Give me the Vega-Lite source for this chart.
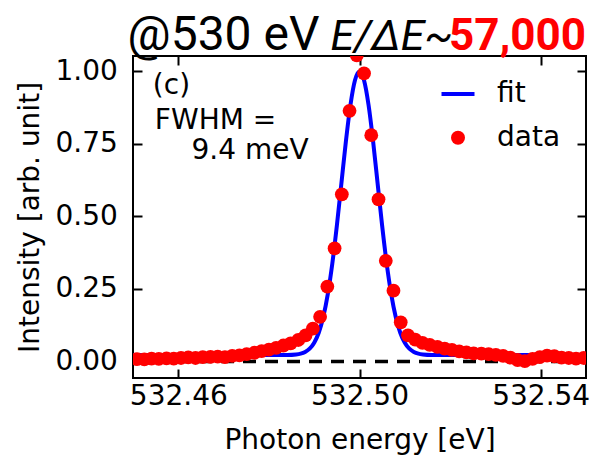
{
  "$schema": "https://vega.github.io/schema/vega-lite/v6.json",
  "width": 453,
  "height": 322,
  "autosize": {"type": "none"},
  "padding": {"left": 133, "top": 56, "right": 8, "bottom": 78},
  "background": "white",
  "config": {
    "view": {"stroke": "#000000", "strokeWidth": 2},
    "axis": {
      "domain": false, "grid": false, "tickColor": "#000000", "tickWidth": 2, "tickSize": -9,
      "labelFont": "DejaVu Sans", "labelFontSize": 28, "labelColor": "#000000",
      "titleFont": "DejaVu Sans", "titleFontSize": 28, "titleFontWeight": "normal", "titleColor": "#000000",
      "labelOverlap": false, "labelFlush": false, "labelBound": false
    }
  },
  "datasets": {
    "fit": [
      {"energy": 532.450, "intensity": 0.022},
      {"energy": 532.470, "intensity": 0.022},
      {"energy": 532.480, "intensity": 0.022},
      {"energy": 532.484, "intensity": 0.0223},
      {"energy": 532.486, "intensity": 0.0241},
      {"energy": 532.487, "intensity": 0.0268},
      {"energy": 532.488, "intensity": 0.0327},
      {"energy": 532.489, "intensity": 0.0440},
      {"energy": 532.490, "intensity": 0.0645},
      {"energy": 532.491, "intensity": 0.0990},
      {"energy": 532.492, "intensity": 0.1532},
      {"energy": 532.493, "intensity": 0.2320},
      {"energy": 532.494, "intensity": 0.3378},
      {"energy": 532.495, "intensity": 0.4680},
      {"energy": 532.496, "intensity": 0.6136},
      {"energy": 532.497, "intensity": 0.7591},
      {"energy": 532.498, "intensity": 0.8843},
      {"energy": 532.499, "intensity": 0.9696},
      {"energy": 532.500, "intensity": 1.0000},
      {"energy": 532.501, "intensity": 0.9696},
      {"energy": 532.502, "intensity": 0.8843},
      {"energy": 532.503, "intensity": 0.7591},
      {"energy": 532.504, "intensity": 0.6136},
      {"energy": 532.505, "intensity": 0.4680},
      {"energy": 532.506, "intensity": 0.3378},
      {"energy": 532.507, "intensity": 0.2320},
      {"energy": 532.508, "intensity": 0.1532},
      {"energy": 532.509, "intensity": 0.0990},
      {"energy": 532.510, "intensity": 0.0645},
      {"energy": 532.511, "intensity": 0.0440},
      {"energy": 532.512, "intensity": 0.0327},
      {"energy": 532.513, "intensity": 0.0268},
      {"energy": 532.514, "intensity": 0.0241},
      {"energy": 532.516, "intensity": 0.0223},
      {"energy": 532.520, "intensity": 0.022},
      {"energy": 532.530, "intensity": 0.022},
      {"energy": 532.550, "intensity": 0.022}
    ],
    "data": [
      {"energy": 532.4509, "intensity": 0.008},
      {"energy": 532.4525, "intensity": 0.007},
      {"energy": 532.4541, "intensity": 0.010},
      {"energy": 532.4557, "intensity": 0.009},
      {"energy": 532.4574, "intensity": 0.011},
      {"energy": 532.4590, "intensity": 0.010},
      {"energy": 532.4606, "intensity": 0.012},
      {"energy": 532.4622, "intensity": 0.014},
      {"energy": 532.4638, "intensity": 0.012},
      {"energy": 532.4654, "intensity": 0.015},
      {"energy": 532.4671, "intensity": 0.016},
      {"energy": 532.4687, "intensity": 0.017},
      {"energy": 532.4703, "intensity": 0.015},
      {"energy": 532.4719, "intensity": 0.019},
      {"energy": 532.4735, "intensity": 0.021},
      {"energy": 532.4751, "intensity": 0.025},
      {"energy": 532.4768, "intensity": 0.030},
      {"energy": 532.4784, "intensity": 0.036},
      {"energy": 532.4800, "intensity": 0.041},
      {"energy": 532.4816, "intensity": 0.047},
      {"energy": 532.4832, "intensity": 0.055},
      {"energy": 532.4848, "intensity": 0.062},
      {"energy": 532.4865, "intensity": 0.074},
      {"energy": 532.4881, "intensity": 0.090},
      {"energy": 532.4897, "intensity": 0.113},
      {"energy": 532.4913, "intensity": 0.154},
      {"energy": 532.4929, "intensity": 0.258},
      {"energy": 532.4945, "intensity": 0.390},
      {"energy": 532.4961, "intensity": 0.576},
      {"energy": 532.4978, "intensity": 0.864},
      {"energy": 532.4994, "intensity": 1.055},
      {"energy": 532.5010, "intensity": 0.993},
      {"energy": 532.5026, "intensity": 0.780},
      {"energy": 532.5042, "intensity": 0.559},
      {"energy": 532.5058, "intensity": 0.347},
      {"energy": 532.5075, "intensity": 0.244},
      {"energy": 532.5091, "intensity": 0.135},
      {"energy": 532.5107, "intensity": 0.090},
      {"energy": 532.5123, "intensity": 0.075},
      {"energy": 532.5139, "intensity": 0.064},
      {"energy": 532.5155, "intensity": 0.057},
      {"energy": 532.5172, "intensity": 0.050},
      {"energy": 532.5188, "intensity": 0.044},
      {"energy": 532.5204, "intensity": 0.040},
      {"energy": 532.5220, "intensity": 0.035},
      {"energy": 532.5236, "intensity": 0.031},
      {"energy": 532.5252, "intensity": 0.028},
      {"energy": 532.5269, "intensity": 0.027},
      {"energy": 532.5285, "intensity": 0.025},
      {"energy": 532.5301, "intensity": 0.023},
      {"energy": 532.5317, "intensity": 0.019},
      {"energy": 532.5333, "intensity": 0.013},
      {"energy": 532.5349, "intensity": 0.005},
      {"energy": 532.5365, "intensity": 0.001},
      {"energy": 532.5382, "intensity": 0.009},
      {"energy": 532.5398, "intensity": 0.015},
      {"energy": 532.5414, "intensity": 0.020},
      {"energy": 532.5430, "intensity": 0.018},
      {"energy": 532.5446, "intensity": 0.013},
      {"energy": 532.5462, "intensity": 0.012},
      {"energy": 532.5478, "intensity": 0.010},
      {"energy": 532.5495, "intensity": 0.012}
    ]
  },
  "resolve": {"axis": {"x": "independent", "y": "independent"}},
  "layer": [
    {
      "data": {"values": [{}]},
      "mark": {"type": "rule", "strokeDash": [13, 9], "strokeWidth": 3.5, "color": "#000000"},
      "encoding": {
        "y": {"datum": 0, "type": "quantitative", "axis": null}
      }
    },
    {
      "data": {"name": "fit"},
      "mark": {"type": "line", "strokeWidth": 4, "interpolate": "monotone", "clip": true},
      "encoding": {
        "x": {"field": "energy", "type": "quantitative",
              "scale": {"domain": [532.45, 532.55], "nice": false, "zero": false},
              "axis": {"orient": "top", "values": [532.46, 532.5, 532.54], "labels": false, "title": null}},
        "y": {"field": "intensity", "type": "quantitative",
              "scale": {"domain": [-0.057, 1.053], "nice": false, "zero": false},
              "axis": {"orient": "right", "values": [0, 0.25, 0.5, 0.75, 1], "labels": false, "title": null}},
        "color": {"datum": "fit", "type": "nominal",
                  "scale": {"domain": ["fit", "data"], "range": ["#0000ff", "#ff0000"]},
                  "legend": {"orient": "none", "legendX": 311, "legendY": 24, "title": null, "padding": 0,
                             "symbolSize": 1089, "symbolStrokeWidth": 4, "symbolType": "stroke",
                             "labelFont": "DejaVu Sans", "labelFontSize": 28, "labelColor": "#000000",
                             "labelOffset": 25, "rowPadding": 15.7,
                             "encode": {"symbols": {"update": {
                               "shape": {"signal": "datum.value === 'fit' ? 'stroke' : 'circle'"},
                               "size": {"signal": "datum.value === 'fit' ? 1089 : 196"},
                               "strokeWidth": {"signal": "datum.value === 'fit' ? 4 : 0"},
                               "fill": {"signal": "datum.value === 'fit' ? 'transparent' : '#ff0000'"},
                               "stroke": {"signal": "datum.value === 'fit' ? '#0000ff' : 'transparent'"},
                               "opacity": {"value": 1}
                             }}}}}
      }
    },
    {
      "data": {"name": "data"},
      "mark": {"type": "point", "filled": true, "size": 190, "opacity": 1, "strokeWidth": 0, "clip": true},
      "encoding": {
        "x": {"field": "energy", "type": "quantitative",
              "axis": {"orient": "bottom", "values": [532.46, 532.5, 532.54], "format": ".2f",
                       "labelPadding": 13.6, "title": "Photon energy [eV]",
                       "titleBaseline": "alphabetic", "titleY": 70.3}},
        "y": {"field": "intensity", "type": "quantitative",
              "axis": {"orient": "left", "values": [0, 0.25, 0.5, 0.75, 1], "format": ".2f",
                       "labelPadding": 24.7, "title": "Intensity [arb. unit]",
                       "titleBaseline": "alphabetic", "titleX": -95}},
        "color": {"datum": "data", "type": "nominal",
                  "legend": {"orient": "none", "legendX": 311, "legendY": 24, "title": null, "padding": 0,
                             "symbolSize": 1089, "symbolStrokeWidth": 4, "symbolType": "stroke",
                             "labelFont": "DejaVu Sans", "labelFontSize": 28, "labelColor": "#000000",
                             "labelOffset": 25, "rowPadding": 15.7,
                             "encode": {"symbols": {"update": {
                               "shape": {"signal": "datum.value === 'fit' ? 'stroke' : 'circle'"},
                               "size": {"signal": "datum.value === 'fit' ? 1089 : 196"},
                               "strokeWidth": {"signal": "datum.value === 'fit' ? 4 : 0"},
                               "fill": {"signal": "datum.value === 'fit' ? 'transparent' : '#ff0000'"},
                               "stroke": {"signal": "datum.value === 'fit' ? '#0000ff' : 'transparent'"},
                               "opacity": {"value": 1}
                             }}}}}
      }
    },
    {
      "data": {"values": [{}]},
      "mark": {"type": "text", "align": "left", "baseline": "alphabetic", "font": "DejaVu Sans", "fontSize": 28, "color": "#000000"},
      "encoding": {
        "x": {"datum": 532.45438, "type": "quantitative", "axis": null},
        "y": {"datum": 0.9215, "type": "quantitative", "axis": null},
        "text": {"value": "(c)"}
      }
    },
    {
      "data": {"values": [{}]},
      "mark": {"type": "text", "align": "left", "baseline": "alphabetic", "font": "DejaVu Sans", "fontSize": 28, "color": "#000000"},
      "encoding": {
        "x": {"datum": 532.45482, "type": "quantitative", "axis": null},
        "y": {"datum": 0.8026, "type": "quantitative", "axis": null},
        "text": {"value": "FWHM ="}
      }
    },
    {
      "data": {"values": [{}]},
      "mark": {"type": "text", "align": "left", "baseline": "alphabetic", "font": "DejaVu Sans", "fontSize": 28, "color": "#000000"},
      "encoding": {
        "x": {"datum": 532.46292, "type": "quantitative", "axis": null},
        "y": {"datum": 0.6965, "type": "quantitative", "axis": null},
        "text": {"value": "9.4 meV"}
      }
    },
    {
      "data": {"values": [{}]},
      "mark": {"type": "text", "align": "left", "baseline": "alphabetic", "font": "Roboto", "fontSize": 48, "color": "#000000"},
      "encoding": {
        "x": {"datum": 532.4488, "type": "quantitative", "axis": null},
        "y": {"datum": 1.073, "type": "quantitative", "axis": null},
        "text": {"value": "@530 eV"}
      }
    },
    {
      "data": {"values": [{}]},
      "mark": {"type": "text", "align": "center", "baseline": "alphabetic", "font": "Roboto", "fontSize": 43, "fontStyle": "italic", "color": "#000000"},
      "encoding": {
        "x": {"datum": 532.5071, "type": "quantitative", "axis": null},
        "y": {"datum": 1.073, "type": "quantitative", "axis": null},
        "text": {"value": "E/ΔE~"}
      }
    },
    {
      "data": {"values": [{}]},
      "mark": {"type": "text", "align": "right", "baseline": "alphabetic", "font": "Roboto", "fontSize": 44, "fontWeight": "bold", "color": "#ff0000"},
      "encoding": {
        "x": {"datum": 532.55002, "type": "quantitative", "axis": null},
        "y": {"datum": 1.073, "type": "quantitative", "axis": null},
        "text": {"value": "57,000"}
      }
    }
  ]
}
